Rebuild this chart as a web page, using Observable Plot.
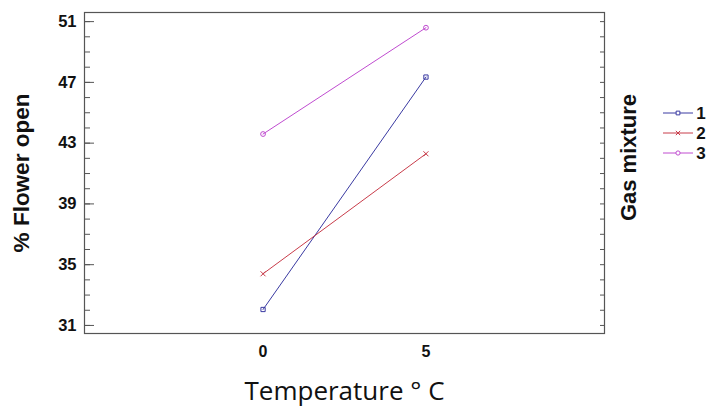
<!DOCTYPE html>
<html>
<head>
<meta charset="utf-8">
<script src="https://cdn.jsdelivr.net/npm/d3@7"></script>
<script src="https://cdn.jsdelivr.net/npm/@observablehq/plot@0.6"></script>
<style>
  html, body { margin: 0; padding: 0; background: #fff; }
  #chart svg { font-family: "Liberation Sans", Arial, sans-serif; }
</style>
</head>
<body>
<div id="chart"></div>
<script>
const temperatures = [0, 5];
const series = ["1", "2", "3"];
const values1 = [32.05, 47.35];
const values2 = [34.4, 42.3];
const values3 = [43.6, 50.6];
const seriesColors = ["#3a3aa2", "#c83c4a", "#c04cd0"];
const seriesSymbols = ["square", "times", "circle"];
const yMajorTicks = [31, 35, 39, 43, 47, 51];
const yMinorTicks = d3.range(31, 52, 1);
const xTicks = [0, 5];

const data = [];
[values1, values2, values3].forEach((vals, i) => {
  temperatures.forEach((t, j) => data.push({temp: t, value: vals[j], mix: series[i]}));
});

const chart = Plot.plot({
  width: 713,
  height: 408,
  marginLeft: 84,
  marginRight: 109,
  marginTop: 12,
  marginBottom: 75,
  style: {background: "#fff"},
  x: {domain: [-5.48, 10.48]},
  y: {domain: [30.47, 51.6]},
  color: {domain: series, range: seriesColors},
  symbol: {domain: series, range: seriesSymbols},
  marks: [
    Plot.frame({stroke: "#555", strokeWidth: 1.2}),
    Plot.axisY(yMinorTicks, {anchor: "left", tickSize: -6, tickFormat: () => "", label: null, stroke: "#555"}),
    Plot.axisY(yMinorTicks, {anchor: "right", tickSize: -5, tickFormat: () => "", label: null, stroke: "#555"}),
    Plot.axisY(yMajorTicks, {anchor: "left", tickSize: -10, tickPadding: 18, stroke: "#555",
      fontSize: 16.5, fontWeight: "bold", fill: "#111",
      label: "% Flower open", labelAnchor: "center", labelArrow: "none", labelOffset: 71}),
    Plot.axisX(xTicks, {anchor: "bottom", tickSize: 0, tickPadding: 12,
      fontSize: 16, fontWeight: "bold", fill: "#111",
      label: "Temperature ° C", labelAnchor: "center", labelArrow: "none", labelOffset: 66}),
    Plot.text(["Gas mixture"], {frameAnchor: "right", textAnchor: "middle", dx: 24, dy: -15.5, rotate: -90,
      fontSize: 22, fontWeight: "bold", fill: "#111"}),
    Plot.line(data, {x: "temp", y: "value", stroke: "mix", strokeWidth: 1}),
    Plot.dot(data, {x: "temp", y: "value", stroke: "mix", symbol: "mix", r: 2.4, strokeWidth: 1})
  ]
});

const svg = d3.select(chart);
svg.selectAll('[aria-label="y-axis label"] text')
  .style("font-size", "22.5px").style("font-weight", "bold");
svg.selectAll('[aria-label="x-axis label"] text')
  .style("font-size", "26px").style("font-weight", "normal")
  .style("font-family", '"Open Sans", sans-serif');

// Legend (line + marker swatches)
const lg = svg.append("g").attr("aria-label", "legend");
series.forEach((s, i) => {
  const yy = 113 + i * 20;
  const g = lg.append("g").attr("transform", `translate(663,${yy})`);
  g.append("line").attr("x1", 0).attr("x2", 30).attr("y1", 0).attr("y2", 0)
    .attr("stroke", seriesColors[i]).attr("stroke-width", 1);
  const sym = {square: d3.symbolSquare, times: d3.symbolTimes, circle: d3.symbolCircle}[seriesSymbols[i]];
  g.append("path").attr("transform", "translate(15,0)")
    .attr("d", d3.symbol(sym, 14)())
    .attr("fill", "#fff").attr("stroke", seriesColors[i]).attr("stroke-width", 1);
  g.append("text").attr("x", 38).attr("y", 0).attr("dy", "0.35em")
    .attr("font-size", 17).attr("font-weight", "bold").attr("fill", "#111").text(s);
});

document.getElementById("chart").appendChild(chart);
</script>
</body>
</html>
